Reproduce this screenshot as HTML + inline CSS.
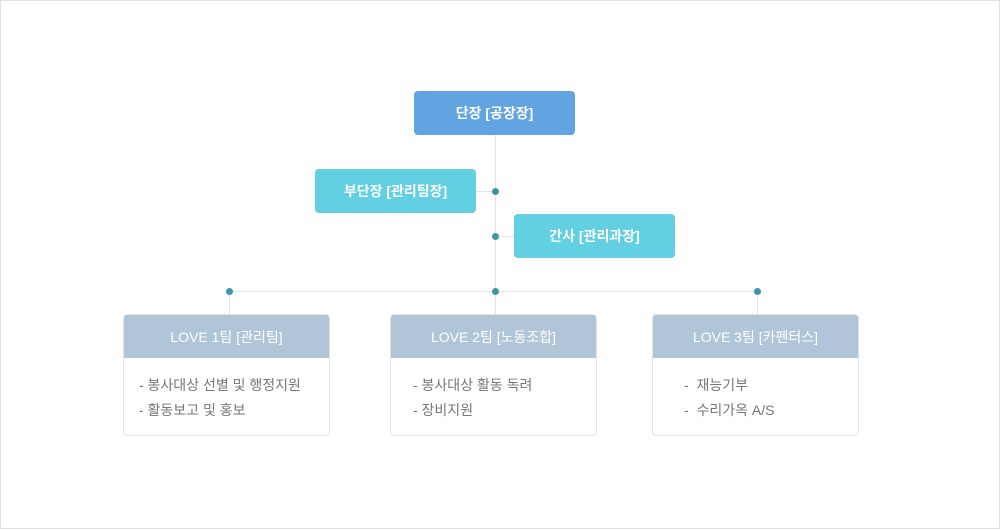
<!DOCTYPE html>
<html><head><meta charset="utf-8"><style>
body{margin:0;width:1000px;height:529px;background:#fff;font-family:"Liberation Sans","Noto Sans CJK KR",sans-serif;position:relative;overflow:hidden}
.frame{position:absolute;left:0;top:0;width:998px;height:527px;border:1px solid #e0e0e0}
.b{position:absolute;color:#fff;font-size:14px;font-weight:bold;display:flex;align-items:center;justify-content:center;border-radius:4px}
.l{position:absolute;background:#e3e3e3}
.d{position:absolute;width:7px;height:7px;border-radius:50%;background:#3e95a8}
.t{position:absolute;width:205px;height:120px;border:1px solid #e3e3e3;border-radius:4px;overflow:hidden;background:#fff}
.t .h{height:43px;background:#b1c5d8;color:#fff;font-size:14px;display:flex;align-items:center;justify-content:center}
.t .c{font-size:14px;color:#777;line-height:25px;padding-top:15px}
</style></head><body>
<div class="frame"></div>
<div class="l" style="left:495px;top:135px;width:1px;height:179px"></div>
<div class="l" style="left:475px;top:191px;width:20px;height:1px"></div>
<div class="l" style="left:495px;top:236px;width:20px;height:1px"></div>
<div class="l" style="left:229px;top:291px;width:528px;height:1px"></div>
<div class="l" style="left:229px;top:291px;width:1px;height:23px"></div>
<div class="l" style="left:757px;top:291px;width:1px;height:23px"></div>
<div class="b" style="left:414px;top:91px;width:161px;height:44px;background:#62a3e2">단장 [공장장]</div>
<div class="b" style="left:315px;top:169px;width:161px;height:44px;background:#62cfe2">부단장 [관리팀장]</div>
<div class="b" style="left:514px;top:214px;width:161px;height:44px;background:#62cfe2">간사 [관리과장]</div>
<div class="d" style="left:492px;top:188px"></div>
<div class="d" style="left:492px;top:233px"></div>
<div class="d" style="left:492px;top:288px"></div>
<div class="d" style="left:226px;top:288px"></div>
<div class="d" style="left:754px;top:288px"></div>
<div class="t" style="left:123px;top:314px"><div class="h">LOVE 1팀 [관리팀]</div><div class="c" style="padding-left:15px">- 봉사대상 선별 및 행정지원<br>- 활동보고 및 홍보</div></div>
<div class="t" style="left:390px;top:314px"><div class="h">LOVE 2팀 [노동조합]</div><div class="c" style="padding-left:22px">- 봉사대상 활동 독려<br>- 장비지원</div></div>
<div class="t" style="left:652px;top:314px"><div class="h">LOVE 3팀 [카펜터스]</div><div class="c" style="padding-left:31px">-&nbsp; 재능기부<br>-&nbsp; 수리가옥 A/S</div></div>
</body></html>
